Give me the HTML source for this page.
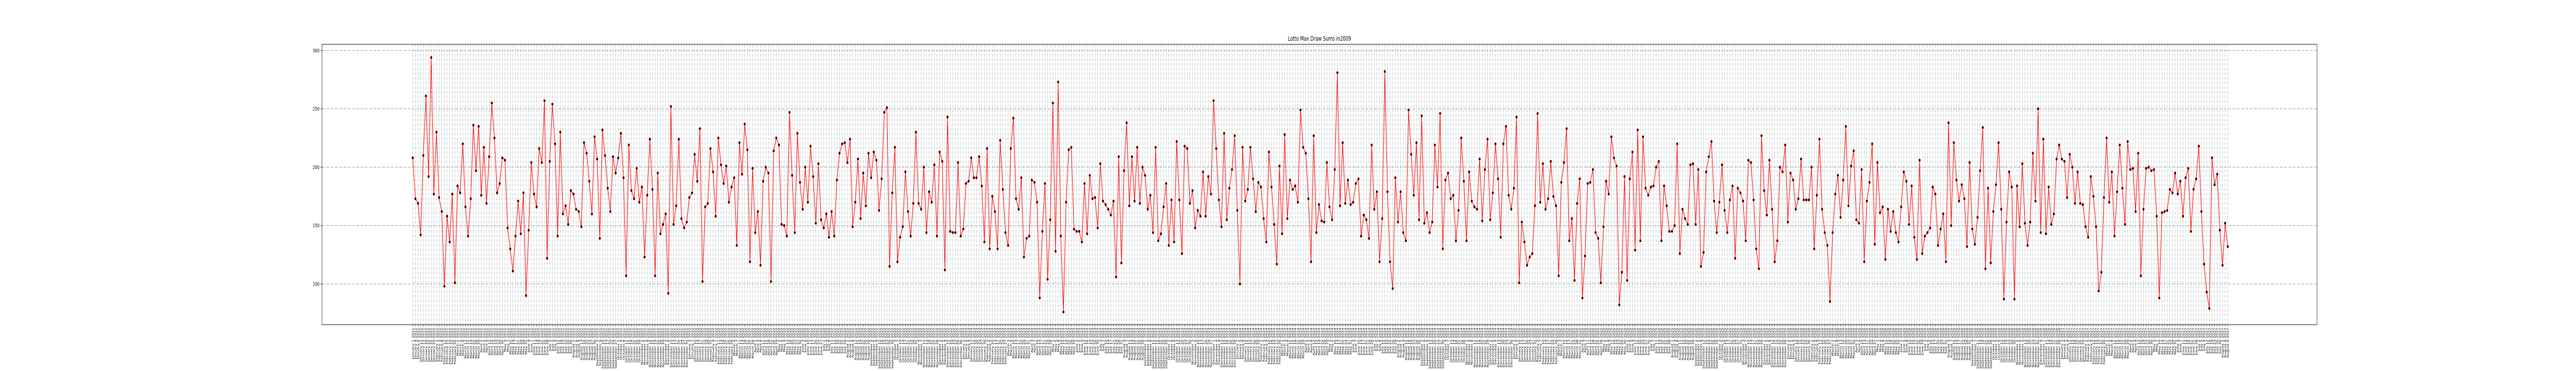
<!DOCTYPE html>
<html><head><meta charset="utf-8"><title>Lotto Max Draw Sums</title>
<style>
html,body{margin:0;padding:0;background:#fff;width:100vw;height:100vh;overflow:hidden;}
svg{display:block;overflow:hidden;width:100vw;height:100vh;}
</style></head>
<body>
<svg id="chart" viewBox="0 0 7200 720" preserveAspectRatio="none" xmlns="http://www.w3.org/2000/svg" font-family="DejaVu Sans, Liberation Sans, sans-serif">
<defs><clipPath id="page"><rect x="0" y="0" width="7200" height="720"/></clipPath></defs>
<g clip-path="url(#page)">
<rect x="0" y="0" width="7200" height="720" fill="#fff"/>
<g id="grid"></g>
<g id="series"></g>
<g id="axes"></g>
<text x="3688" y="79" text-anchor="middle" font-size="12" fill="#000">Lotto Max Draw Sums in2009</text>
</g>
</svg>
<script>
const sums = [
208,173,169,142,210,261,192,294,177,230,174,162,98,158,136,177,101,184,178,220,166,141,173,236,197,235,176,217,169,209,255,225,178,186,208,206,148,130,111,141,171,143,178,90,146,
204,177,166,216,204,257,122,205,254,220,141,230,160,167,151,180,177,164,162,149,221,212,188,160,226,207,139,232,210,182,162,209,195,208,229,191,107,219,180,173,199,170,183,123,176,224,181,107,195,143,151,160,92,252,151,167,224,156,148,153,174,178,211,188,233,102,166,169,216,196,158,225,202,186,201,170,183,191,133,221,194,237,215,119,199,144,162,116,
188,200,195,102,214,225,219,151,150,141,247,193,144,229,187,164,200,170,218,192,152,203,155,148,160,140,162,141,189,212,220,221,204,224,149,170,207,156,195,167,212,191,213,206,163,190,247,251,115,178,217,119,140,149,196,162,141,169,230,169,164,200,144,179,170,202,141,213,205,112,243,145,144,144,204,141,147,186,188,208,191,191,209,184,136,216,130,175,
162,130,223,181,144,133,216,242,173,164,191,123,139,141,189,187,170,88,145,186,104,155,255,128,273,141,76,170,215,217,147,145,145,136,186,143,193,173,174,148,203,171,168,164,159,171,106,209,118,197,238,167,209,171,217,169,200,193,164,176,144,217,137,143,166,186,133,172,136,222,172,126,218,216,169,180,148,163,158,196,158,192,177,257,216,172,149,229,
155,182,198,227,163,100,217,171,181,217,190,162,187,183,156,136,213,183,151,117,201,143,228,156,189,181,184,170,249,217,212,173,119,227,144,168,154,153,204,166,155,198,281,167,221,169,189,168,170,186,190,141,159,155,139,219,164,179,119,156,282,179,119,96,191,153,179,144,137,249,211,176,221,155,244,152,161,144,153,219,183,246,130,189,195,173,176,137,
163,225,188,137,196,171,166,164,207,154,198,224,155,178,220,190,140,220,235,176,164,182,243,101,153,136,116,123,126,167,246,170,203,164,173,205,175,167,107,187,204,233,137,156,103,169,190,88,124,186,187,198,144,139,101,149,188,177,226,208,201,82,110,192,103,190,213,129,232,137,226,182,176,183,184,200,205,137,184,167,145,145,150,220,126,164,156,151,202,
203,151,198,115,127,196,209,222,171,144,170,202,163,144,172,184,122,182,178,171,137,206,204,172,130,113,227,180,159,206,164,119,137,200,196,219,153,195,189,164,173,207,172,172,172,200,130,176,224,164,144,133,85,144,177,193,157,189,235,167,201,214,155,152,198,119,171,187,220,134,204,161,166,121,164,145,162,144,136,166,196,188,151,184,140,121,206,126,
141,144,148,183,177,133,147,160,119,238,150,221,189,171,185,173,132,204,147,134,157,197,234,113,182,118,162,185,221,164,87,153,196,183,87,184,149,203,152,133,153,212,171,250,144,224,143,183,151,160,207,219,207,205,174,211,200,169,196,169,168,149,140,192,175,149,94,110,174,225,170,196,141,179,219,182,151,222,198,199,162,212,107,164,199,200,197,198,158,88,161,162,163,181,
178,195,177,188,158,191,199,145,181,190,218,162,117,93,79,208,185,194,146,116,152,132
];
const yTicks = [100,150,200,250,300];
const monthNames = ["January","February","March","April","May","June","July","August","September","October","November","December"];
</script>
<script>
const NS="http://www.w3.org/2000/svg";
const L=900,R=6476,T=86,B=630;
const X0=1153.7,X1=6226.7;
const n=sums.length;
function xs(i){return X0+(X1-X0)*i/(n-1);}
function ys(v){return 551-(v-100)*2.265;}
function mk(tag,attrs,parent){const e=document.createElementNS(NS,tag);for(const k in attrs)e.setAttribute(k,attrs[k]);parent.appendChild(e);return e;}
const grid=document.getElementById('grid'),series=document.getElementById('series'),axes=document.getElementById('axes');
const labels=[];
let d=new Date(2021,0,1);
for(let i=0;i<n;i++){labels.push(monthNames[d.getMonth()]+" "+d.getDate()+" "+d.getFullYear());d=new Date(d.getTime()+3.5*86400000);}
for(let i=0;i<n;i++){
  const x=xs(i);
  const g=mk('line',{x1:x,x2:x,y1:T,y2:B,stroke:'#b0bbbb','stroke-width':1.2,'stroke-dasharray':'6,3'},grid);
  
  
}
yTicks.forEach(v=>{
  const y=ys(v);
  const g=mk('line',{x1:L,x2:R,y1:y,y2:y,stroke:'#b0bbbb','stroke-width':1.5,'stroke-dasharray':'8,4'},grid);
  
  
  const t=mk('line',{x1:L-4,x2:L,y1:y,y2:y,stroke:'#000','stroke-width':1},axes);
  
  
  const tx=mk('text',{x:L-7,y:y+3.5,'text-anchor':'end','font-size':10,fill:'#000'},axes);
  tx.textContent=v;
  
  
});
let dstr='';
for(let i=0;i<n;i++){dstr+=(i?'L':'M')+xs(i).toFixed(2)+' '+ys(sums[i]).toFixed(2);}
const pl=mk('path',{d:dstr,fill:'none',stroke:'#ff0000','stroke-width':1.5},series);


for(let i=0;i<n;i++){
  const c=mk('circle',{cx:xs(i),cy:ys(sums[i]),r:2.6,fill:'#000',stroke:'#ff0000','stroke-width':0.7},series);
  
  
}
for(let i=0;i<n;i++){
  const x=xs(i);
  const t=mk('line',{x1:x,x2:x,y1:B,y2:B+4,stroke:'#000','stroke-width':0.8},axes);
  
  
  const tx=mk('text',{x:0,y:0,'text-anchor':'end','font-size':8,fill:'#000',transform:'translate('+(x+3)+','+(B+6)+') rotate(-90)'},axes);
  tx.textContent=labels[i];
  
  
}
const fr=mk('rect',{x:L,y:T,width:R-L,height:B-T,fill:'none',stroke:'#000','stroke-width':1},axes);


</script>
</body></html>
